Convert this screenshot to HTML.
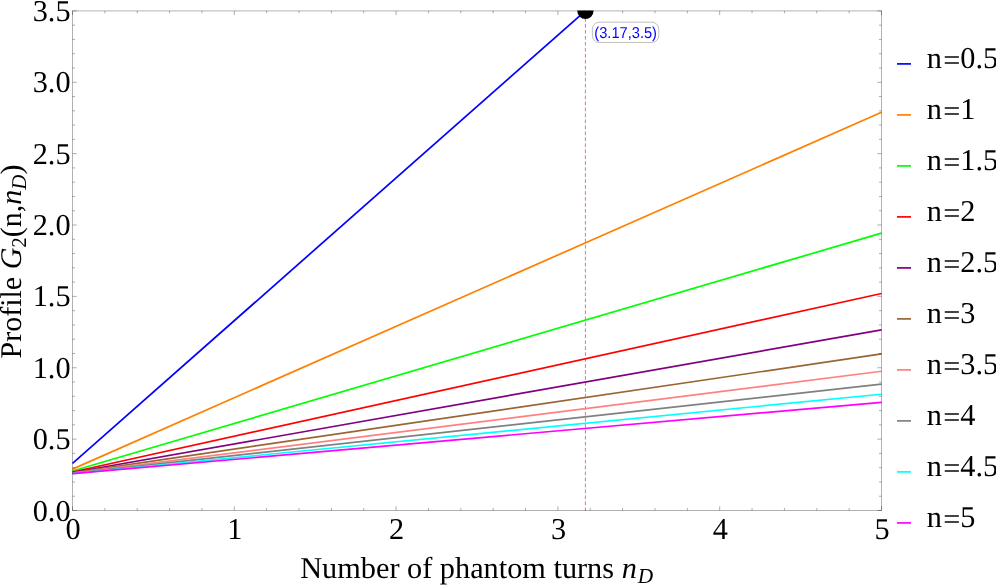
<!DOCTYPE html>
<html><head><meta charset="utf-8"><title>plot</title>
<style>
html,body{margin:0;padding:0;background:#fff;}
body{width:996px;height:585px;overflow:hidden;position:relative;font-family:"Liberation Serif",serif;}
svg{position:absolute;left:0;top:0;display:block;will-change:transform;}
text{font-family:"Liberation Serif",serif;fill:#000;text-rendering:geometricPrecision;}
.sans{font-family:"Liberation Sans",sans-serif;}
</style></head><body>
<svg width="996" height="585" viewBox="0 0 996 585">
<defs><clipPath id="pc"><rect x="72.00" y="10.40" width="810.00" height="500.60"/></clipPath></defs>

<line x1="585.41" y1="18.05" x2="585.41" y2="510.90" stroke="#ff6a70" stroke-width="1" stroke-dasharray="3.7 2.268" />
<g clip-path="url(#pc)" fill="none" stroke-width="1.7" stroke-linecap="butt">
<line x1="72.50" y1="463.39" x2="585.41" y2="10.90" stroke="#0000ff"/>
<line x1="72.50" y1="469.10" x2="881.50" y2="112.25" stroke="#ff8000"/>
<line x1="72.50" y1="471.01" x2="881.50" y2="233.10" stroke="#00ff00"/>
<line x1="72.50" y1="471.96" x2="881.50" y2="293.53" stroke="#ff0000"/>
<line x1="72.50" y1="472.53" x2="881.50" y2="329.79" stroke="#800080"/>
<line x1="72.50" y1="472.91" x2="881.50" y2="353.96" stroke="#996633"/>
<line x1="72.50" y1="473.18" x2="881.50" y2="371.22" stroke="#ff8080"/>
<line x1="72.50" y1="473.39" x2="881.50" y2="384.17" stroke="#808080"/>
<line x1="72.50" y1="473.55" x2="881.50" y2="394.24" stroke="#00ffff"/>
<line x1="72.50" y1="473.67" x2="881.50" y2="402.30" stroke="#ff00ff"/>
</g>
<g clip-path="url(#pc)"><circle cx="585.41" cy="10.90" r="8.1" fill="#000"/></g>
<rect x="72.50" y="10.90" width="809.00" height="499.60" fill="none" stroke="#000" stroke-opacity="0.30" stroke-width="1"/>
<g stroke="#000" stroke-opacity="0.36" stroke-width="0.9" fill="none">
<path d="M72.50 510.50v-4.20M72.50 10.90v4.20"/>
<path d="M104.86 510.50v-2.50M104.86 10.90v2.50"/>
<path d="M137.22 510.50v-2.50M137.22 10.90v2.50"/>
<path d="M169.58 510.50v-2.50M169.58 10.90v2.50"/>
<path d="M201.94 510.50v-2.50M201.94 10.90v2.50"/>
<path d="M234.30 510.50v-4.20M234.30 10.90v4.20"/>
<path d="M266.66 510.50v-2.50M266.66 10.90v2.50"/>
<path d="M299.02 510.50v-2.50M299.02 10.90v2.50"/>
<path d="M331.38 510.50v-2.50M331.38 10.90v2.50"/>
<path d="M363.74 510.50v-2.50M363.74 10.90v2.50"/>
<path d="M396.10 510.50v-4.20M396.10 10.90v4.20"/>
<path d="M428.46 510.50v-2.50M428.46 10.90v2.50"/>
<path d="M460.82 510.50v-2.50M460.82 10.90v2.50"/>
<path d="M493.18 510.50v-2.50M493.18 10.90v2.50"/>
<path d="M525.54 510.50v-2.50M525.54 10.90v2.50"/>
<path d="M557.90 510.50v-4.20M557.90 10.90v4.20"/>
<path d="M590.26 510.50v-2.50M590.26 10.90v2.50"/>
<path d="M622.62 510.50v-2.50M622.62 10.90v2.50"/>
<path d="M654.98 510.50v-2.50M654.98 10.90v2.50"/>
<path d="M687.34 510.50v-2.50M687.34 10.90v2.50"/>
<path d="M719.70 510.50v-4.20M719.70 10.90v4.20"/>
<path d="M752.06 510.50v-2.50M752.06 10.90v2.50"/>
<path d="M784.42 510.50v-2.50M784.42 10.90v2.50"/>
<path d="M816.78 510.50v-2.50M816.78 10.90v2.50"/>
<path d="M849.14 510.50v-2.50M849.14 10.90v2.50"/>
<path d="M881.50 510.50v-4.20M881.50 10.90v4.20"/>
<path d="M72.50 510.50h4.20M881.50 510.50h-4.20"/>
<path d="M72.50 496.23h2.50M881.50 496.23h-2.50"/>
<path d="M72.50 481.95h2.50M881.50 481.95h-2.50"/>
<path d="M72.50 467.68h2.50M881.50 467.68h-2.50"/>
<path d="M72.50 453.40h2.50M881.50 453.40h-2.50"/>
<path d="M72.50 439.13h4.20M881.50 439.13h-4.20"/>
<path d="M72.50 424.85h2.50M881.50 424.85h-2.50"/>
<path d="M72.50 410.58h2.50M881.50 410.58h-2.50"/>
<path d="M72.50 396.31h2.50M881.50 396.31h-2.50"/>
<path d="M72.50 382.03h2.50M881.50 382.03h-2.50"/>
<path d="M72.50 367.76h4.20M881.50 367.76h-4.20"/>
<path d="M72.50 353.48h2.50M881.50 353.48h-2.50"/>
<path d="M72.50 339.21h2.50M881.50 339.21h-2.50"/>
<path d="M72.50 324.93h2.50M881.50 324.93h-2.50"/>
<path d="M72.50 310.66h2.50M881.50 310.66h-2.50"/>
<path d="M72.50 296.39h4.20M881.50 296.39h-4.20"/>
<path d="M72.50 282.11h2.50M881.50 282.11h-2.50"/>
<path d="M72.50 267.84h2.50M881.50 267.84h-2.50"/>
<path d="M72.50 253.56h2.50M881.50 253.56h-2.50"/>
<path d="M72.50 239.29h2.50M881.50 239.29h-2.50"/>
<path d="M72.50 225.01h4.20M881.50 225.01h-4.20"/>
<path d="M72.50 210.74h2.50M881.50 210.74h-2.50"/>
<path d="M72.50 196.47h2.50M881.50 196.47h-2.50"/>
<path d="M72.50 182.19h2.50M881.50 182.19h-2.50"/>
<path d="M72.50 167.92h2.50M881.50 167.92h-2.50"/>
<path d="M72.50 153.64h4.20M881.50 153.64h-4.20"/>
<path d="M72.50 139.37h2.50M881.50 139.37h-2.50"/>
<path d="M72.50 125.09h2.50M881.50 125.09h-2.50"/>
<path d="M72.50 110.82h2.50M881.50 110.82h-2.50"/>
<path d="M72.50 96.55h2.50M881.50 96.55h-2.50"/>
<path d="M72.50 82.27h4.20M881.50 82.27h-4.20"/>
<path d="M72.50 68.00h2.50M881.50 68.00h-2.50"/>
<path d="M72.50 53.72h2.50M881.50 53.72h-2.50"/>
<path d="M72.50 39.45h2.50M881.50 39.45h-2.50"/>
<path d="M72.50 25.17h2.50M881.50 25.17h-2.50"/>
<path d="M72.50 10.90h4.20M881.50 10.90h-4.20"/>
</g>
<text x="70.6" y="520.50" font-size="30.3" text-anchor="end">0.0</text>
<text x="70.6" y="449.13" font-size="30.3" text-anchor="end">0.5</text>
<text x="70.6" y="377.76" font-size="30.3" text-anchor="end">1.0</text>
<text x="70.6" y="306.39" font-size="30.3" text-anchor="end">1.5</text>
<text x="70.6" y="235.01" font-size="30.3" text-anchor="end">2.0</text>
<text x="70.6" y="163.64" font-size="30.3" text-anchor="end">2.5</text>
<text x="70.6" y="92.27" font-size="30.3" text-anchor="end">3.0</text>
<text x="70.6" y="20.90" font-size="30.3" text-anchor="end">3.5</text>
<text x="73.10" y="539.3" font-size="30.3" text-anchor="middle">0</text>
<text x="234.90" y="539.3" font-size="30.3" text-anchor="middle">1</text>
<text x="396.70" y="539.3" font-size="30.3" text-anchor="middle">2</text>
<text x="558.50" y="539.3" font-size="30.3" text-anchor="middle">3</text>
<text x="720.30" y="539.3" font-size="30.3" text-anchor="middle">4</text>
<text x="882.10" y="539.3" font-size="30.3" text-anchor="middle">5</text>
<text x="476.7" y="578.3" font-size="30.3" text-anchor="middle">Number of phantom turns <tspan font-style="italic">n</tspan><tspan font-style="italic" font-size="21.3" dy="4.5" dx="1">D</tspan></text>
<text transform="translate(20.8,261.5) rotate(-90)" font-size="30" text-anchor="middle">Profile <tspan font-style="italic">G</tspan><tspan font-size="21" dy="5">2</tspan><tspan dy="-5">(n,</tspan><tspan font-style="italic">n</tspan><tspan font-style="italic" font-size="21" dy="5">D</tspan><tspan dy="-5">)</tspan></text>
<line x1="897" y1="63.90" x2="911" y2="63.90" stroke="#0000ff" stroke-width="1.7"/>
<text x="926.7" y="67.50" font-size="30.3">n<tspan dx="1.3" dy="2.9">=</tspan><tspan dy="-2.9">0.5</tspan></text>
<line x1="897" y1="114.90" x2="911" y2="114.90" stroke="#ff8000" stroke-width="1.7"/>
<text x="926.7" y="118.50" font-size="30.3">n<tspan dx="1.3" dy="2.9">=</tspan><tspan dy="-2.9">1</tspan></text>
<line x1="897" y1="165.90" x2="911" y2="165.90" stroke="#00ff00" stroke-width="1.7"/>
<text x="926.7" y="169.50" font-size="30.3">n<tspan dx="1.3" dy="2.9">=</tspan><tspan dy="-2.9">1.5</tspan></text>
<line x1="897" y1="216.90" x2="911" y2="216.90" stroke="#ff0000" stroke-width="1.7"/>
<text x="926.7" y="220.50" font-size="30.3">n<tspan dx="1.3" dy="2.9">=</tspan><tspan dy="-2.9">2</tspan></text>
<line x1="897" y1="267.90" x2="911" y2="267.90" stroke="#800080" stroke-width="1.7"/>
<text x="926.7" y="271.50" font-size="30.3">n<tspan dx="1.3" dy="2.9">=</tspan><tspan dy="-2.9">2.5</tspan></text>
<line x1="897" y1="318.90" x2="911" y2="318.90" stroke="#996633" stroke-width="1.7"/>
<text x="926.7" y="322.50" font-size="30.3">n<tspan dx="1.3" dy="2.9">=</tspan><tspan dy="-2.9">3</tspan></text>
<line x1="897" y1="369.90" x2="911" y2="369.90" stroke="#ff8080" stroke-width="1.7"/>
<text x="926.7" y="373.50" font-size="30.3">n<tspan dx="1.3" dy="2.9">=</tspan><tspan dy="-2.9">3.5</tspan></text>
<line x1="897" y1="420.90" x2="911" y2="420.90" stroke="#808080" stroke-width="1.7"/>
<text x="926.7" y="424.50" font-size="30.3">n<tspan dx="1.3" dy="2.9">=</tspan><tspan dy="-2.9">4</tspan></text>
<line x1="897" y1="471.90" x2="911" y2="471.90" stroke="#00ffff" stroke-width="1.7"/>
<text x="926.7" y="475.50" font-size="30.3">n<tspan dx="1.3" dy="2.9">=</tspan><tspan dy="-2.9">4.5</tspan></text>
<line x1="897" y1="522.90" x2="911" y2="522.90" stroke="#ff00ff" stroke-width="1.7"/>
<text x="926.7" y="526.50" font-size="30.3">n<tspan dx="1.3" dy="2.9">=</tspan><tspan dy="-2.9">5</tspan></text>
<rect x="592.4" y="22.2" width="66.4" height="20.3" rx="7" ry="7" fill="#fff" stroke="#8c8c8c" stroke-width="0.55"/>
<text class="sans" x="594.3" y="38.4" font-size="15.8" style="fill:#0000ff" textLength="62.7" lengthAdjust="spacingAndGlyphs">(3.17,3.5)</text>
</svg></body></html>
